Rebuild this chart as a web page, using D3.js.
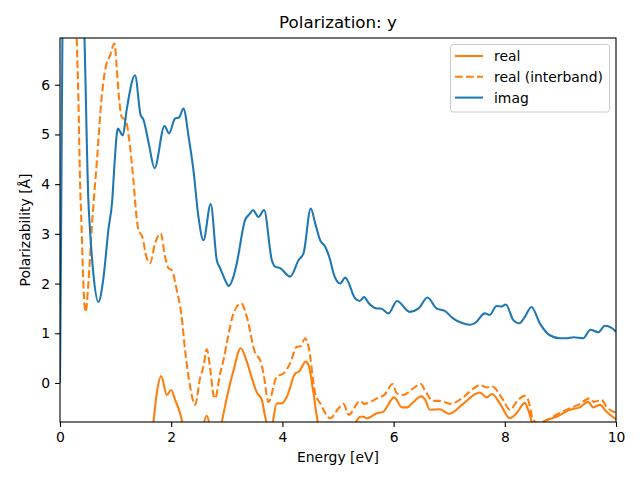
<!DOCTYPE html>
<html>
<head>
<meta charset="utf-8">
<script src="https://cdn.jsdelivr.net/npm/d3@7/dist/d3.min.js"></script>
<style>
  body { margin: 0; background: #fff; }
  svg { display: block; font-family: "DejaVu Sans", sans-serif; }
</style>
</head>
<body>
<svg id="chart" width="640" height="480"></svg>
<script>
const title = "Polarization: y";
const xLabel = "Energy [eV]";
const yLabel = "Polarizability [Å]";
const xTicks = [0, 2, 4, 6, 8, 10];
const yTicks = [0, 1, 2, 3, 4, 5, 6];
const seriesNames = ["real", "real (interband)", "imag"];

const imagX = [0, 0.02, 0.05, 0.15, 0.3, 0.4, 0.44, 0.51, 0.54, 0.6, 0.69, 0.78, 0.87, 0.94, 0.98, 1.04, 1.13, 1.2, 1.35, 1.45, 1.5, 1.6, 1.70, 1.88, 1.96, 2.07, 2.14, 2.22, 2.32, 2.40, 2.49, 2.58, 2.71, 2.82, 2.88, 3.0, 3.03, 3.12, 3.18, 3.33, 3.42, 3.47, 3.57, 3.67, 3.81, 3.87, 3.96, 4.14, 4.29, 4.38, 4.51, 4.59, 4.68, 4.77, 4.86, 4.92, 5.04, 5.13, 5.31, 5.39, 5.47, 5.55, 5.70, 5.77, 5.91, 6.06, 6.29, 6.45, 6.61, 6.77, 6.92, 7.07, 7.22, 7.37, 7.47, 7.64, 7.73, 7.85, 7.94, 8.02, 8.15, 8.26, 8.36, 8.48, 8.63, 8.81, 8.99, 9.11, 9.24, 9.41, 9.54, 9.68, 9.80, 9.92, 10];
const imagY = [0, 3, 8, 12, 11.5, 8.5, 6.96, 3.68, 3.08, 2.2, 1.63, 2.1, 3.08, 3.68, 4.4, 5.12, 4.98, 5.5, 6.19, 5.39, 5.3, 4.8, 4.32, 5.17, 5.02, 5.32, 5.34, 5.52, 4.9, 4.28, 3.34, 2.87, 3.60, 2.47, 2.31, 2.0, 1.95, 2.14, 2.41, 3.28, 3.41, 3.48, 3.34, 3.48, 2.47, 2.34, 2.31, 2.14, 2.47, 2.61, 3.51, 3.21, 2.87, 2.74, 2.47, 2.20, 2.0, 2.12, 1.70, 1.65, 1.73, 1.61, 1.50, 1.50, 1.40, 1.65, 1.43, 1.50, 1.72, 1.50, 1.45, 1.30, 1.21, 1.17, 1.21, 1.40, 1.37, 1.55, 1.54, 1.58, 1.27, 1.20, 1.33, 1.53, 1.20, 0.96, 0.90, 0.90, 0.92, 0.90, 1.07, 1.02, 1.15, 1.11, 1.03];

const interX = [0, 0.1, 0.2, 0.3, 0.33, 0.36, 0.39, 0.42, 0.46, 0.51, 0.57, 0.66, 0.75, 0.81, 0.90, 0.98, 1.02, 1.06, 1.11, 1.18, 1.26, 1.32, 1.38, 1.41, 1.48, 1.56, 1.62, 1.71, 1.81, 1.89, 1.95, 2.01, 2.10, 2.18, 2.25, 2.34, 2.43, 2.52, 2.58, 2.64, 2.70, 2.76, 2.79, 2.88, 2.94, 3.01, 3.12, 3.26, 3.36, 3.51, 3.60, 3.66, 3.75, 3.90, 4.02, 4.14, 4.26, 4.33, 4.41, 4.47, 4.59, 4.68, 4.86, 5.01, 5.10, 5.19, 5.40, 5.47, 5.70, 5.85, 5.98, 6.06, 6.18, 6.33, 6.49, 6.56, 6.71, 6.83, 7.03, 7.25, 7.49, 7.55, 7.67, 7.77, 7.97, 8.09, 8.24, 8.36, 8.42, 8.51, 8.60, 8.75, 8.93, 9.11, 9.32, 9.53, 9.60, 9.74, 9.83, 10];
const interY = [14, 13, 10.5, 6.94, 5.75, 4.08, 3.08, 2.0, 1.43, 2.0, 3.1, 4.41, 5.75, 6.29, 6.59, 6.83, 6.36, 5.75, 5.35, 5.29, 4.75, 4.08, 3.3, 3.08, 2.94, 2.51, 2.41, 2.81, 3.01, 2.54, 2.31, 2.27, 1.87, 1.40, 0.66, -0.07, -0.44, 0.1, 0.33, 0.68, 0.3, -0.24, -0.31, 0.19, 0.46, 0.86, 1.40, 1.60, 1.33, 0.60, 0.46, 0.19, -0.38, 0.13, 0.19, 0.40, 0.73, 0.74, 0.90, 0.73, -0.21, -0.41, -0.71, -0.51, -0.42, -0.64, -0.36, -0.42, -0.31, -0.22, -0.02, -0.21, -0.24, -0.13, -0.02, -0.14, -0.36, -0.36, -0.42, -0.29, -0.07, -0.04, -0.09, -0.07, -0.34, -0.54, -0.34, -0.26, -0.34, -0.74, -0.80, -0.75, -0.64, -0.54, -0.44, -0.31, -0.38, -0.34, -0.48, -0.60];

const realX = [0.1, 0.5, 1.0, 1.3, 1.5, 1.62, 1.68, 1.74, 1.82, 1.92, 2.00, 2.07, 2.14, 2.19, 2.30, 2.43, 2.55, 2.64, 2.72, 2.80, 2.91, 3.0, 3.12, 3.25, 3.36, 3.45, 3.54, 3.63, 3.69, 3.78, 3.90, 3.99, 4.08, 4.23, 4.30, 4.42, 4.47, 4.56, 4.62, 4.75, 4.95, 5.15, 5.30, 5.40, 5.46, 5.52, 5.70, 5.81, 6.01, 6.15, 6.25, 6.33, 6.50, 6.57, 6.65, 6.83, 7.00, 7.25, 7.49, 7.55, 7.67, 7.77, 7.91, 8.09, 8.21, 8.36, 8.42, 8.52, 8.62, 8.69, 8.93, 9.17, 9.35, 9.50, 9.59, 9.71, 9.83, 10];
const realY = [-20, -15, -6, -3, -2.0, -1.2, -0.78, -0.21, 0.14, -0.24, -0.14, -0.34, -0.54, -0.74, -1.5, -1.8, -1.0, -0.66, -1.0, -1.3, -0.78, -0.3, 0.25, 0.70, 0.43, 0.1, -0.19, -0.34, -0.68, -1.0, -0.41, -0.41, -0.28, 0.19, 0.23, 0.43, 0.36, -0.21, -0.68, -1.2, -1.0, -0.95, -0.82, -0.68, -0.68, -0.71, -0.61, -0.58, -0.29, -0.49, -0.49, -0.41, -0.27, -0.34, -0.54, -0.53, -0.62, -0.42, -0.21, -0.19, -0.29, -0.22, -0.41, -0.71, -0.61, -0.40, -0.54, -0.85, -0.85, -0.78, -0.68, -0.54, -0.49, -0.38, -0.49, -0.44, -0.58, -0.73];

const orange = "#ff7f0e", blue = "#1f77b4";
const svg = d3.select("#chart");
const L = 60, R = 616, T = 38, B = 422;
const x = d3.scaleLinear().domain([0, 10]).range([L, R]);
const y = d3.scaleLinear().domain([-0.785, 6.94]).range([B, T]);

svg.append("defs").append("clipPath").attr("id", "clip")
  .append("rect").attr("x", L).attr("y", T).attr("width", R - L).attr("height", B - T);

const line = d3.line().x(d => x(d[0])).y(d => y(d[1])).curve(d3.curveMonotoneX);
const g = svg.append("g").attr("clip-path", "url(#clip)");
const pairs = (xs, ys) => xs.map((v, i) => [v, ys[i]]);

g.append("path").attr("d", line(pairs(realX, realY))).attr("fill", "none")
  .attr("stroke", orange).attr("stroke-width", 2.08).attr("stroke-linejoin", "round");
g.append("path").attr("d", line(pairs(interX, interY))).attr("fill", "none")
  .attr("stroke", orange).attr("stroke-width", 2.08).attr("stroke-dasharray", "7.7,3.3");
g.append("path").attr("d", line(pairs(imagX, imagY))).attr("fill", "none")
  .attr("stroke", blue).attr("stroke-width", 2.08).attr("stroke-linejoin", "round");

// axes
const xAxis = svg.append("g").attr("transform", `translate(0,${B})`)
  .call(d3.axisBottom(x).tickValues(xTicks).tickSize(4.9).tickPadding(4.9).tickFormat(d3.format("d")));
const yAxis = svg.append("g").attr("transform", `translate(${L},0)`)
  .call(d3.axisLeft(y).tickValues(yTicks).tickSize(4.9).tickPadding(4.9).tickFormat(d3.format("d")));
[xAxis, yAxis].forEach(a => {
  a.select(".domain").remove();
  a.selectAll("line").attr("stroke", "#000").attr("stroke-width", 1.1);
  a.selectAll("text").attr("font-size", 13.9).attr("fill", "#000").attr("font-family", "DejaVu Sans");
});
svg.append("rect").attr("x", L).attr("y", T).attr("width", R - L).attr("height", B - T)
  .attr("fill", "none").attr("stroke", "#000").attr("stroke-width", 1.1);

svg.append("text").attr("x", (L + R) / 2).attr("y", 28).attr("text-anchor", "middle")
  .attr("font-size", 16.7).text(title);
svg.append("text").attr("x", (L + R) / 2).attr("y", 462).attr("text-anchor", "middle")
  .attr("font-size", 13.9).text(xLabel);
svg.append("text").attr("transform", `translate(30,${(T + B) / 2}) rotate(-90)`)
  .attr("text-anchor", "middle").attr("font-size", 13.9).text(yLabel);

// legend
const lg = svg.append("g");
lg.append("rect").attr("x", 450.5).attr("y", 44.5).attr("width", 159).attr("height", 67.5)
  .attr("rx", 2.8).attr("fill", "#fff").attr("fill-opacity", 0.8).attr("stroke", "#cccccc").attr("stroke-width", 1);
const legendStyles = [{ c: orange, dash: null }, { c: orange, dash: "7.7,3.3" }, { c: blue, dash: null }];
seriesNames.forEach((name, i) => {
  const yy = 56 + i * 20.8;
  lg.append("line").attr("x1", 455).attr("x2", 483).attr("y1", yy).attr("y2", yy)
    .attr("stroke", legendStyles[i].c).attr("stroke-width", 2.08)
    .attr("stroke-dasharray", legendStyles[i].dash);
  lg.append("text").attr("x", 494).attr("y", yy + 5).attr("font-size", 13.9).text(name);
});
</script>
</body>
</html>
